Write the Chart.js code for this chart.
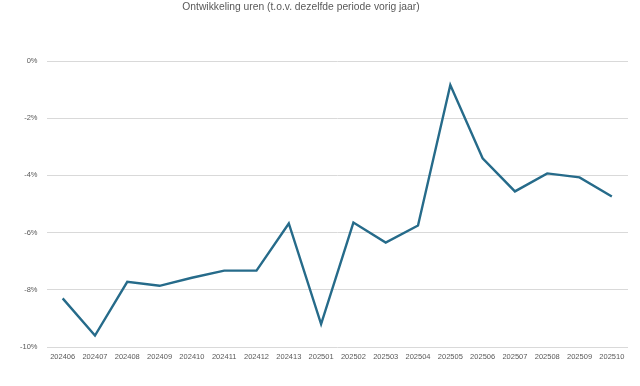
<!DOCTYPE html>
<html>
<head>
<meta charset="utf-8">
<script src="https://cdn.jsdelivr.net/npm/chart.js@4"></script>
<style>
  html, body { margin: 0; padding: 0; background: #fff; }
  #wrap { position: relative; width: 640px; height: 386px; }
  #title {
    position: absolute; top: 1px; left: 0; width: 602px; text-align: center;
    font-family: "Liberation Sans", Arial, sans-serif; font-size: 10.3px; color: #595959;
  }
</style>
</head>
<body>
<div id="wrap">
  <div id="title">Ontwikkeling uren (t.o.v. dezelfde periode vorig jaar)</div>
  <canvas id="chart" width="640" height="386"></canvas>
</div>
<script>
var periods = ['202406', '202407', '202408', '202409', '202410', '202411', '202412', '202413', '202501',
  '202502', '202503', '202504', '202505', '202506', '202507', '202508', '202509', '202510'];
var growth = [-8.3, -9.6, -7.72, -7.86, -7.58, -7.33, -7.33, -5.68, -9.2,
  -5.65, -6.35, -5.75, -0.84, -3.4, -4.56, -3.93, -4.07, -4.74];
var yTicks = [0, -2, -4, -6, -8, -10];

var tickFont = { family: 'Liberation Sans', size: 7.5 };
var ctx = document.getElementById('chart');
var chart = new Chart(ctx, {
  type: 'line',
  data: {
    labels: periods,
    datasets: [{
      data: growth,
      borderColor: '#266b8a',
      borderWidth: 2.4,
      pointRadius: 0,
      tension: 0,
      fill: false
    }]
  },
  options: {
    responsive: false,
    animation: false,
    layout: { padding: { top: 61, bottom: 20, left: 11, right: 12 } },
    plugins: { legend: { display: false }, tooltip: { enabled: false }, title: { display: false } },
    scales: {
      x: {
        offset: true,
        grid: { display: false, drawTicks: false },
        border: { display: false },
        ticks: { font: tickFont, color: '#595959', padding: 5, maxRotation: 0, autoSkip: false }
      },
      y: {
        min: Math.min.apply(null, yTicks),
        max: Math.max.apply(null, yTicks),
        border: { display: false },
        grid: { color: '#d9d9d9', lineWidth: 1, drawTicks: false },
        afterBuildTicks: function(axis) {
          axis.ticks = yTicks.map(function(v) { return { value: v }; });
        },
        ticks: {
          font: tickFont, color: '#595959', padding: 9,
          callback: function(v) { return v + '%'; }
        }
      }
    }
  }
});
</script>
</body>
</html>
